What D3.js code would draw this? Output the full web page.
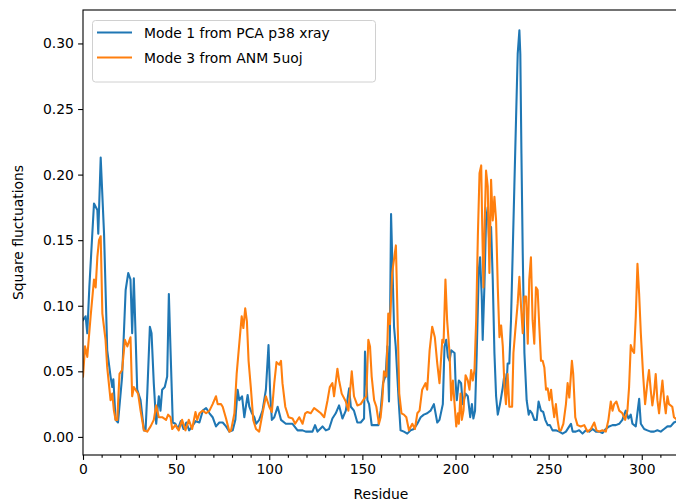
<!DOCTYPE html>
<html>
<head>
<meta charset="utf-8">
<script src="https://cdn.jsdelivr.net/npm/d3@7"></script>
<style>
  body { margin: 0; background: #fff; }
  svg { display: block; font-family: "DejaVu Sans", sans-serif; }
</style>
</head>
<body>
<div id="chart"></div>
<script>
// Mode 1 from PCA p38 xray (residue, square fluctuation)
const pcaResidues = [0,1.4,2.3,3.4,5.9,7.7,8.2,9.5,11.3,13,14.8,15.7,16.3,17.5,18.8,21,22.9,24.3,25.5,26.4,27.3,28.2,29.1,30.9,32.7,33.6,34.5,35.9,36.8,38,39.3,40.7,41.6,42.5,43.9,45.2,46.1,47,48.2,49.6,51,52.5,54,55.5,57,58.6,60.5,62.5,64.3,66.1,67.9,69.6,71.4,73.2,75,76.8,78.6,80.4,81.8,83,83.9,85.4,86.6,88.4,89.3,90.7,92,92.9,94.6,96.4,98.2,99.6,100.5,101.4,102.7,104.5,106.3,108.9,112.5,115.2,117.9,119.6,123.2,124.6,125.9,128.6,130.4,132.1,133.9,135.7,137.5,139.3,141.1,142.9,143.8,145.5,147.3,149.1,150.9,151.4,152.7,153.6,155,157.1,158.6,159.8,161.1,162.5,163.4,164.3,164.8,165.4,167,167.9,169.6,170.5,172.3,174.1,175.9,177.7,179.5,181.3,183,184.8,186.6,188.4,190.2,191.4,193.2,194.1,195,195.9,196.8,197.7,199.5,200,200.7,201.8,203,203.9,205.4,206.6,207.9,208.8,209.6,210.5,211.4,212.5,213.2,214.1,214.6,215.5,216.4,217.3,218.2,219.1,220,220.9,221.8,222.7,223.9,225.4,226.3,227.1,228,228.9,229.8,230.7,231.6,232.5,233.4,234.3,234.8,235.4,236.1,237,238.2,239.3,240,241.1,242.3,243.6,244.6,245.9,247.1,248.2,249.5,250.7,252.1,253.9,255.7,257.5,259.3,261.1,262,262.9,264.6,266.4,268.2,270,271.8,273.6,275.4,277.1,278.9,280.7,282.5,284.3,286.1,287.9,289.6,291.4,292.9,294.1,295,296.8,298.6,299.5,301.3,303,304.8,306.6,308.4,310.2,312,313.8,315.5,317.3,319];
const pcaValues = [0.089,0.092,0.079,0.114,0.178,0.173,0.155,0.213,0.155,0.066,0.046,0.038,0.044,0.013,0.011,0.046,0.112,0.125,0.12,0.079,0.121,0.079,0.036,0.028,0.005,0.005,0.033,0.084,0.079,0.041,0.010,0.031,0.020,0.036,0.038,0.046,0.109,0.066,0.011,0.010,0.006,0.012,0.006,0.011,0.005,0.008,0.012,0.011,0.020,0.022,0.018,0.015,0.008,0.011,0.011,0.008,0.004,0.005,0.013,0.036,0.028,0.031,0.015,0.032,0.023,0.018,0.015,0.010,0.013,0.020,0.036,0.070,0.033,0.013,0.015,0.023,0.013,0.010,0.010,0.005,0.005,0.004,0.004,0.009,0.004,0.008,0.005,0.006,0.014,0.018,0.024,0.014,0.020,0.037,0.023,0.020,0.011,0.011,0.014,0.065,0.028,0.025,0.009,0.009,0.009,0.020,0.041,0.047,0.069,0.027,0.081,0.170,0.084,0.069,0.025,0.005,0.004,0.0025,0.005,0.006,0.010,0.015,0.017,0.018,0.020,0.025,0.011,0.013,0.025,0.069,0.074,0.061,0.058,0.066,0.064,0.043,0.028,0.043,0.041,0.025,0.033,0.031,0.015,0.025,0.014,0.020,0.064,0.127,0.137,0.107,0.074,0.114,0.165,0.175,0.145,0.160,0.120,0.064,0.031,0.017,0.025,0.038,0.048,0.031,0.056,0.056,0.089,0.140,0.191,0.242,0.292,0.310,0.292,0.216,0.140,0.064,0.028,0.017,0.020,0.018,0.013,0.013,0.027,0.020,0.019,0.013,0.009,0.009,0.005,0.005,0.004,0.0025,0.004,0.008,0.010,0.004,0.004,0.005,0.0025,0.005,0.004,0.006,0.004,0.004,0.003,0.006,0.008,0.009,0.009,0.010,0.013,0.020,0.014,0.017,0.010,0.008,0.029,0.010,0.006,0.005,0.004,0.004,0.005,0.004,0.006,0.008,0.008,0.011,0.012];

// Mode 3 from ANM 5uoj
const anmResidues = [0,1.1,2.3,4.1,5.9,6.8,7.7,8.6,9.5,10.4,12.1,13,14.8,15.7,16.6,17.5,18.4,19.6,21,22.5,23.8,25.5,26.4,27.3,28.2,29.6,30.9,32.7,34.5,36.3,38,39.3,40.7,42.5,44.6,45.7,47,47.9,49.6,51.4,53.2,55,56.8,58.6,60.4,61.3,62.5,64.3,66.1,67.9,69.6,71.4,72.3,74.1,75,76.8,78.6,79.5,81.3,82.5,83.9,85.2,86.1,87.1,88,88.9,90.2,91.4,92.9,94.6,96.4,98.2,100,101.4,102.7,103.9,105.4,106.3,107.1,108.6,110.4,112.5,113.9,116.1,117.9,119.3,120.5,122.3,124.1,125.9,127.7,129.5,131.3,132.5,133.9,134.8,136.6,137.5,138.9,141.1,142.5,144.3,145.5,147.3,149.1,150.9,152.1,153.2,154.1,155,156.3,157.5,158.9,159.8,160.7,161.6,162.9,163.9,164.8,166,168,169,169.8,171,172.3,173.6,175,176.8,178.2,179.5,180.7,182.1,183.9,184.8,186.1,187.5,188.9,190.2,191.4,192.9,193.6,194.6,195.5,196.8,197.7,198.6,199.5,200.4,201.3,201.8,202.7,203.4,204.3,205.4,206.6,207.5,208.4,209.3,210.2,211.1,212,212.9,213.8,214.3,215,215.7,216.4,217.3,218.2,219.1,220,220.9,221.8,222.7,223.6,224.5,225.4,226.3,227.1,228,228.9,230.4,231.1,232.1,233.4,234.3,235.2,236.1,237,237.9,238.8,239.6,240.5,241.4,242.3,243.2,244.1,245,245.9,246.8,247.7,248.6,249.5,250.4,251.3,252.1,253,253.9,254.8,255.7,256.6,257.9,259.3,260.2,261.1,262.5,263.2,264.3,265.5,267.3,269.1,270.9,272.7,274.5,275.7,277.1,278.9,280.7,282.1,283.4,284.3,285.2,286.4,287.9,289.6,291.1,292.3,293.2,294.1,295,295.9,296.8,297.7,298.6,299.5,300.7,301.8,303,303.9,304.8,305.7,306.6,307.5,308.4,309.3,310.2,311.1,312,312.9,313.8,314.6,316.4,317.3,319];
const anmValues = [0.046,0.069,0.061,0.092,0.120,0.114,0.137,0.150,0.153,0.094,0.074,0.053,0.028,0.033,0.020,0.013,0.013,0.048,0.051,0.074,0.069,0.076,0.031,0.038,0.036,0.033,0.020,0.005,0.004,0.008,0.013,0.024,0.015,0.015,0.013,0.017,0.015,0.006,0.009,0.005,0.013,0.005,0.013,0.006,0.019,0.013,0.018,0.020,0.018,0.020,0.025,0.031,0.025,0.025,0.023,0.014,0.004,0.005,0.018,0.048,0.071,0.092,0.083,0.098,0.088,0.058,0.036,0.013,0.006,0.004,0.018,0.031,0.023,0.019,0.041,0.057,0.055,0.058,0.041,0.023,0.015,0.014,0.010,0.015,0.010,0.018,0.019,0.018,0.022,0.020,0.018,0.015,0.028,0.038,0.041,0.031,0.052,0.043,0.033,0.027,0.020,0.050,0.031,0.024,0.025,0.029,0.031,0.074,0.069,0.046,0.028,0.023,0.010,0.015,0.028,0.050,0.046,0.094,0.086,0.125,0.146,0.084,0.033,0.018,0.017,0.015,0.005,0.010,0.006,0.018,0.020,0.036,0.041,0.036,0.066,0.084,0.076,0.056,0.041,0.074,0.072,0.120,0.089,0.064,0.028,0.043,0.025,0.008,0.018,0.010,0.033,0.013,0.020,0.047,0.043,0.036,0.051,0.043,0.051,0.089,0.153,0.201,0.207,0.165,0.114,0.165,0.203,0.191,0.125,0.196,0.165,0.183,0.165,0.114,0.076,0.085,0.069,0.038,0.025,0.048,0.023,0.023,0.064,0.081,0.102,0.122,0.099,0.079,0.107,0.107,0.071,0.120,0.137,0.089,0.071,0.114,0.112,0.084,0.058,0.058,0.053,0.036,0.037,0.028,0.036,0.025,0.015,0.025,0.013,0.005,0.005,0.010,0.025,0.041,0.030,0.058,0.048,0.015,0.009,0.008,0.009,0.004,0.006,0.011,0.005,0.004,0.005,0.004,0.013,0.027,0.020,0.025,0.027,0.020,0.018,0.013,0.020,0.038,0.070,0.066,0.064,0.092,0.132,0.109,0.079,0.048,0.025,0.041,0.051,0.036,0.024,0.033,0.048,0.028,0.018,0.031,0.043,0.028,0.018,0.031,0.025,0.023,0.015,0.013];

const seriesNames = ["Mode 1 from PCA p38 xray", "Mode 3 from ANM 5uoj"];
const seriesColors = ["#1f77b4", "#ff7f0e"];
const xTicks = [0, 50, 100, 150, 200, 250, 300];
const xMinorTicks = d3.range(0, 321, 10);
const yTicks = [0, 0.05, 0.10, 0.15, 0.20, 0.25, 0.30];

const W = 676, H = 504;
const plot = {left: 83, right: 679, top: 10, bottom: 455};

const svg = d3.select("#chart").append("svg")
    .attr("width", W).attr("height", H);

const x = d3.scaleLinear().domain([0, 320]).range([plot.left, plot.right]);
const y = d3.scaleLinear().domain([-0.0138, 0.3255]).range([plot.bottom, plot.top]);

svg.append("clipPath").attr("id", "clip")
  .append("rect")
    .attr("x", plot.left).attr("y", plot.top)
    .attr("width", plot.right - plot.left).attr("height", plot.bottom - plot.top);

const line = d3.line().x(d => x(d[0])).y(d => y(d[1]));
const series = [
    d3.zip(pcaResidues, pcaValues),
    d3.zip(anmResidues, anmValues)
];

const lineGroup = svg.append("g").attr("clip-path", "url(#clip)");
series.forEach((data, i) => {
    lineGroup.append("path")
        .datum(data)
        .attr("d", line)
        .attr("fill", "none")
        .attr("stroke", seriesColors[i])
        .attr("stroke-width", 2.08)
        .attr("stroke-linejoin", "round")
        .attr("stroke-linecap", "square");
});

// axes, matplotlib look
const xAxis = svg.append("g")
    .attr("transform", `translate(0,${plot.bottom})`)
    .call(d3.axisBottom(x).tickValues(xTicks).tickFormat(d3.format("d")).tickSize(4.9).tickPadding(4.2));
svg.append("g")
    .attr("transform", `translate(0,${plot.bottom})`)
    .call(d3.axisBottom(x).tickValues(xMinorTicks.filter(t => !xTicks.includes(t))).tickSize(2.8).tickFormat(""))
    .call(g => g.select(".domain").remove());
const yAxis = svg.append("g")
    .attr("transform", `translate(${plot.left},0)`)
    .call(d3.axisLeft(y).tickValues(yTicks).tickFormat(d3.format(".2f")).tickSize(4.9).tickPadding(4.2));

svg.selectAll(".tick line").attr("stroke", "#000").attr("stroke-width", 1.1);
svg.selectAll(".tick text").attr("fill", "#000").style("font-size", "13.9px").style("font-family", "DejaVu Sans");
svg.selectAll(".domain").remove();

// frame
svg.append("rect")
    .attr("x", plot.left).attr("y", plot.top)
    .attr("width", plot.right - plot.left).attr("height", plot.bottom - plot.top)
    .attr("fill", "none").attr("stroke", "#000").attr("stroke-width", 1.1);

svg.append("text")
    .attr("x", (plot.left + plot.right) / 2).attr("y", 499)
    .attr("text-anchor", "middle").style("font-size", "13.9px")
    .text("Residue");
svg.append("text")
    .attr("transform", `translate(23,${(plot.top + plot.bottom) / 2}) rotate(-90)`)
    .attr("text-anchor", "middle").style("font-size", "13.9px")
    .text("Square fluctuations");

// legend
const legend = svg.append("g");
legend.append("rect")
    .attr("x", 92.5).attr("y", 20.5).attr("width", 283).attr("height", 61.5)
    .attr("rx", 3).attr("fill", "#fff").attr("fill-opacity", 0.8)
    .attr("stroke", "#d0d0d0").attr("stroke-width", 1);
seriesNames.forEach((name, i) => {
    const ly = 32.5 + i * 25;
    legend.append("line")
        .attr("x1", 97).attr("x2", 132).attr("y1", ly).attr("y2", ly)
        .attr("stroke", seriesColors[i]).attr("stroke-width", 2.08);
    legend.append("text")
        .attr("x", 144).attr("y", ly + 5)
        .style("font-size", "13.9px")
        .text(name);
});
</script>
</body>
</html>
